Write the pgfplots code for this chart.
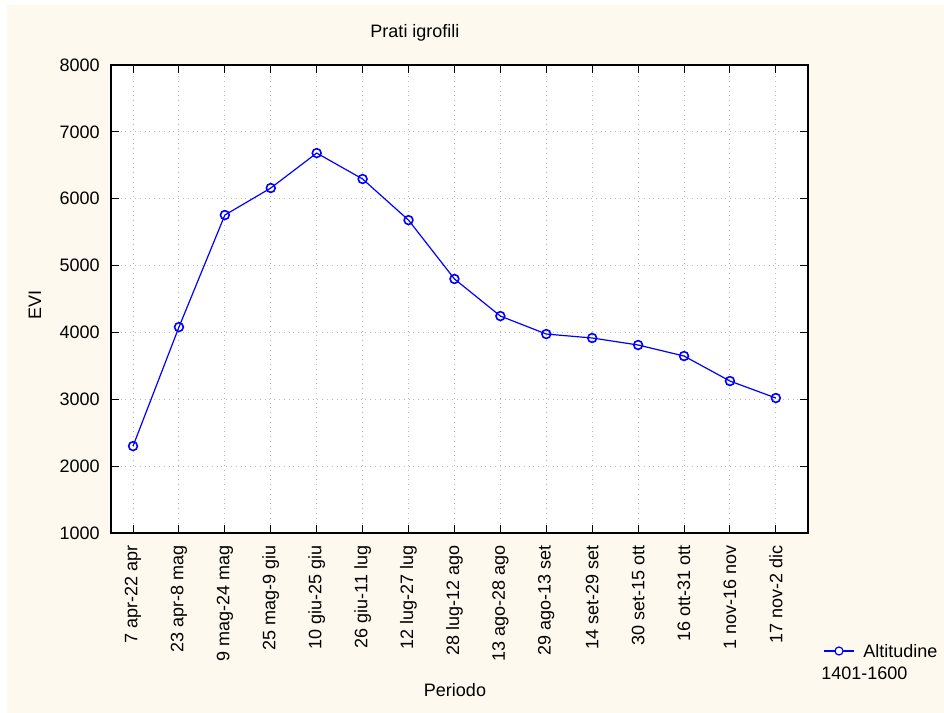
\documentclass[border=0pt]{standalone}
\usepackage{pgfplots}
\pgfplotsset{compat=1.18}
\usepackage{fontspec}
\setmainfont{Liberation Sans}
\definecolor{cream}{RGB}{253,249,238}
\definecolor{lineblue}{RGB}{0,0,255}
\begin{document}
\begin{tikzpicture}
\fill[white] (-55.5pt,-90pt) rectangle (416.5pt,266.5pt);
\fill[cream] (-52pt,-90pt) rectangle (416.5pt,264pt);
\begin{axis}[
  at={(0,0)}, anchor=south west,
  scale only axis,
  width=348.5pt, height=234pt,
  axis background/.style={fill=white},
  xmin=-0.48, xmax=14.7,
  ymin=1000, ymax=8000,
  ytick={1000,2000,...,8000},
  xtick={0,...,14},
  xticklabels={7 apr-22 apr,23 apr-8 mag,9 mag-24 mag,25 mag-9 giu,10 giu-25 giu,26 giu-11 lug,12 lug-27 lug,28 lug-12 ago,13 ago-28 ago,29 ago-13 set,14 set-29 set,30 set-15 ott,16 ott-31 ott,1 nov-16 nov,17 nov-2 dic},
  tick align=inside,
  major tick length=4pt,
  tick style={black, line width=0.5pt},
  axis line style={black, line width=0.6pt},
  grid=major,
  major grid style={gray!55, dotted, line width=0.5pt},
  /pgf/number format/assume math mode=true,
  /pgf/number format/1000 sep={},
  every tick label/.append style={font=\fontsize{9}{10.8}\selectfont},
  yticklabel style={inner sep=0pt, xshift=-5.5pt},
  xticklabel style={yshift=-6pt, rotate=90, anchor=east, inner sep=0pt},
]
\addplot[lineblue, line width=0.6pt, mark=o, mark size=2.2pt,
  mark options={fill=white, line width=0.8pt}] coordinates {
  (0,2300) (1,4080) (2,5756) (3,6160) (4,6683) (5,6295) (6,5680)
  (7,4800) (8,4245) (9,3976) (10,3917) (11,3812) (12,3647) (13,3273) (14,3019)
};
\end{axis}
\node[font=\fontsize{9}{10.8}\selectfont] at (152pt,250pt) {Prati igrofili};
\node[font=\fontsize{9}{10.8}\selectfont] at (172pt,-78.5pt) {Periodo};
\node[font=\fontsize{9}{10.8}\selectfont, rotate=90] at (-38pt,114pt) {EVI};
\draw[lineblue, line width=0.6pt] (356.5pt,-59pt) -- (371.5pt,-59pt);
\draw[lineblue, line width=0.6pt, fill=white] (364pt,-59pt) circle (2pt);
\node[font=\fontsize{9}{10.8}\selectfont, anchor=west, inner sep=0pt] at (376pt,-59pt) {Altitudine};
\node[font=\fontsize{9}{10.8}\selectfont, anchor=west, inner sep=0pt] at (355pt,-70pt) {1401-1600};
\end{tikzpicture}
\end{document}
